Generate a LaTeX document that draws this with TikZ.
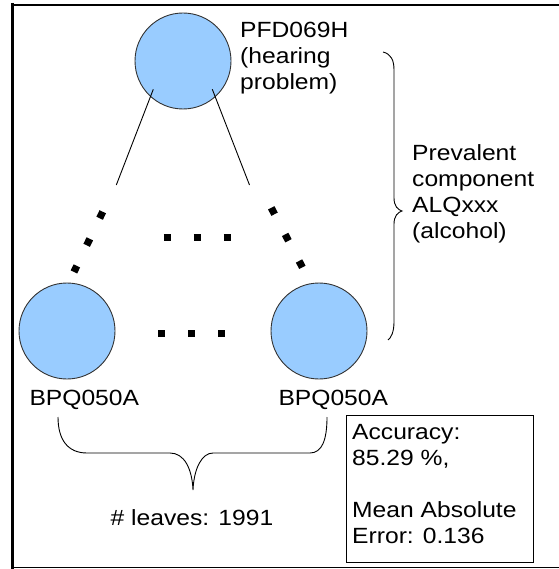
\documentclass[tikz,border=0pt]{standalone}
\usepackage{fontspec}
\setmainfont{Liberation Sans}[FakeStretch=1.12]
\usepackage{xcolor}
\definecolor{leafblue}{HTML}{99CCFF}
\definecolor{rimgray}{HTML}{333333}
\usepackage{tikz}
\usetikzlibrary{positioning}

\begin{document}
\begin{tikzpicture}[x=1pt, y=-1pt,
    treenode/.style={circle, draw=rimgray, line width=0.9pt, fill=leafblue, minimum size=96pt, inner sep=0pt},
    txt/.style={font=\fontsize{22}{26}\selectfont, inner sep=0pt, align=left},
    conn/.style={line width=0.9pt},
    dotrow/.style={line width=7.2pt, dash pattern=on 7.2pt off 22.8pt, shorten <=-3.6pt, shorten >=-3.6pt}
]
  \useasboundingbox (0,0) rectangle (558,569);

  % Rahmen
  \draw[line width=3pt] (12.5,3) -- (12.5,569);
  \draw[line width=2pt] (11,5) -- (580,5);
  \draw[line width=1.6pt] (11,567.6) -- (580,567.6);

  % Knoten
  \node[treenode] (root) at (183,61) {};
  \node[treenode] (leafa) at (67,331) {};
  \node[treenode] (leafb) at (319,331) {};

  % Kanten von der Wurzel
  \coordinate (ra) at (153.3,89.3);
  \coordinate (rb) at (212.3,89.3);
  \coordinate (ea) at (116.3,185);
  \coordinate (eb) at (249.5,185);
  \draw[conn] (ra) -- (ea);
  \draw[conn] (rb) -- (eb);

  % Punktreihen
  \coordinate (da1) at (101.2,215);
  \coordinate (da3) at (75.5,268.7);
  \coordinate (db1) at (272.9,211);
  \coordinate (db3) at (300.8,264.3);
  \coordinate (dm1) at (167.4,237.7);
  \coordinate (dm3) at (227.9,237.7);
  \coordinate (dn1) at (161.7,333.3);
  \coordinate (dn3) at (221.8,333.3);
  \draw[dotrow] (da1) -- (da3);
  \draw[dotrow] (db1) -- (db3);
  \draw[dotrow] (dm1) -- (dm3);
  \draw[dotrow] (dn1) -- (dn3);

  % Beschriftungen
  \node[txt, anchor=north west] (rootlab) at (240,22.3) {PFD069H\\(hearing\\problem)};
  \node[txt, anchor=base west] (leafalab) at (29.3,405) {BPQ050A};
  \node[txt, anchor=base west] (leafblab) at (278.3,405) {BPQ050A};
  \node[txt, anchor=north west] (prevlab) at (412,144) {Prevalent\\component\\ALQxxx\\(alcohol)};
  \node[txt, anchor=base] (leaveslab) at (192,525) {\# leaves: 1991};

  % Klammern
  \draw[conn] (383,52) .. controls (391,54) and (394,60) .. (394,70) -- (394,198)
    .. controls (394,206) and (398,210) .. (402,211)
    .. controls (398,212) and (394,216) .. (394,224) -- (394,322)
    .. controls (394,332) and (391,338) .. (388,340);
  \draw[conn] (58,417) .. controls (58,440) and (68,453) .. (87,453) -- (170,453)
    .. controls (184,453) and (192,468) .. (193,490)
    .. controls (194,468) and (202,453) .. (213,453) -- (310,453)
    .. controls (322,453) and (327,440) .. (327,417);

  % Ergebnis
  \node[draw, line width=1pt, anchor=north west, minimum width=187pt, minimum height=147pt, inner sep=0pt] (resbox) at (346,415) {};
  \node[txt, anchor=north west, below right=9pt and 6pt of resbox.north west] (reslab) {Accuracy:\\85.29 \%,\\[26pt]Mean Absolute\\Error: 0.136};

\end{tikzpicture}
\end{document}
